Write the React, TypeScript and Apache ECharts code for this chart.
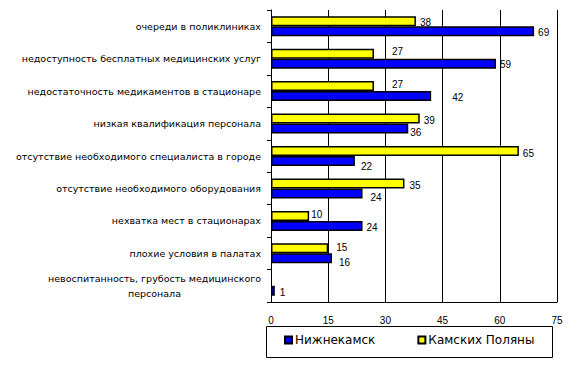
import React, { useEffect, useRef } from "react";
import * as echarts from "echarts";

const categories = [
  "очереди в поликлиниках",
  "недоступность бесплатных медицинских услуг",
  "недостаточность медикаментов в стационаре",
  "низкая квалификация персонала",
  "отсутствие необходимого специалиста в городе",
  "отсутствие необходимого оборудования",
  "нехватка мест в стационарах",
  "плохие условия в палатах",
  "невоспитанность, грубость медицинского\nперсонала",
];
const nizhnekamsk = [69, 59, 42, 36, 22, 24, 24, 16, 1];
const kamskiePolyany = [38, 27, 27, 39, 65, 35, 10, 15, null];
const xTicks = { min: 0, max: 75, interval: 15 };

// label nudges (dx, dy) mimicking the original placement
const yellowShift: [number, number][] = [[0, 1], [14, -2], [14, -2], [0, 2], [0, 2], [1, 2], [-2, -1], [4, -1], [0, 0]];
const blueShift: [number, number][] = [[0, 1], [0, 1], [17, 1], [-2, 4], [2, 5], [4, 4], [0, 2], [3, 4], [1, 2]];

const FONT = "'Liberation Sans', Arial, sans-serif";
const WIDE = "'DejaVu Sans', Verdana, sans-serif";

export default function App() {
  const ref = useRef<HTMLDivElement>(null);
  useEffect(() => {
    if (!ref.current) return;
    const chart = echarts.init(ref.current, undefined, { renderer: "svg" });
    const mk = (vals: (number | null)[], shifts: [number, number][]) =>
      vals.map((v, i) => ({
        value: v,
        label: { offset: shifts[i] },
      }));
    chart.setOption({
      animation: false,
      textStyle: { fontFamily: FONT },
      grid: { left: 271, right: 17, top: 10, bottom: 63, containLabel: false },
      xAxis: {
        type: "value",
        min: xTicks.min,
        max: xTicks.max,
        interval: xTicks.interval,
        axisLine: { show: true, lineStyle: { color: "#000", width: 1 } },
        axisTick: { show: false },
        splitLine: { show: true, lineStyle: { color: "#000", width: 1 } },
        axisLabel: { color: "#000", fontSize: 10, margin: 13, fontFamily: FONT },
      },
      yAxis: {
        type: "category",
        inverse: true,
        data: categories,
        axisLine: { show: true, lineStyle: { color: "#000", width: 1 } },
        axisTick: { show: true, length: 4, lineStyle: { color: "#000" } },
        axisLabel: {
          color: "#000",
          fontSize: 9.5,
          margin: 10,
          fontFamily: WIDE,
          formatter: (v: string) => {
            if (!v.includes("\n")) return v;
            const [a, b] = v.split("\n");
            return `{a|${a}}\n{b|${b}}`;
          },
          rich: {
            a: { fontSize: 9.5, color: "#000", fontFamily: WIDE, lineHeight: 15 },
            b: { fontSize: 9.5, color: "#000", fontFamily: WIDE, lineHeight: 15, padding: [0, 80, 0, 0] },
          },
        },
      },
      legend: {
        left: 284,
        top: 334,
        data: ["Нижнекамск", "Камских Поляны"],
        icon: "rect",
        itemWidth: 7,
        itemHeight: 7,
        itemGap: 42,
        padding: 0,
        textStyle: { fontSize: 12, color: "#000", fontFamily: WIDE, padding: [0, 0, 0, -2] },
      },
      graphic: [
        {
          type: "rect",
          shape: { x: 266.5, y: 326.5, width: 286, height: 31 },
          style: { fill: "none", stroke: "#000", lineWidth: 1 },
          silent: true,
        },
      ],
      series: [
        {
          name: "Камских Поляны",
          type: "bar",
          data: mk(kamskiePolyany, yellowShift),
          barWidth: 10,
          barGap: "0%",
          itemStyle: { color: "#ffff00", borderColor: "#000", borderWidth: 1.5 },
          label: { show: true, position: "right", distance: 4, color: "#000", fontSize: 10, fontFamily: FONT },
        },
        {
          name: "Нижнекамск",
          type: "bar",
          data: mk(nizhnekamsk, blueShift),
          barWidth: 10,
          barGap: "0%",
          itemStyle: { color: "#0000ff", borderColor: "#000", borderWidth: 1.5 },
          label: { show: true, position: "right", distance: 4, color: "#000", fontSize: 10, fontFamily: FONT },
        },
      ],
    });
    return () => chart.dispose();
  }, []);
  return (
    <div
      ref={ref}
      style={{ position: "fixed", left: 0, top: 0, width: 574, height: 365, background: "#fff" }}
    />
  );
}
